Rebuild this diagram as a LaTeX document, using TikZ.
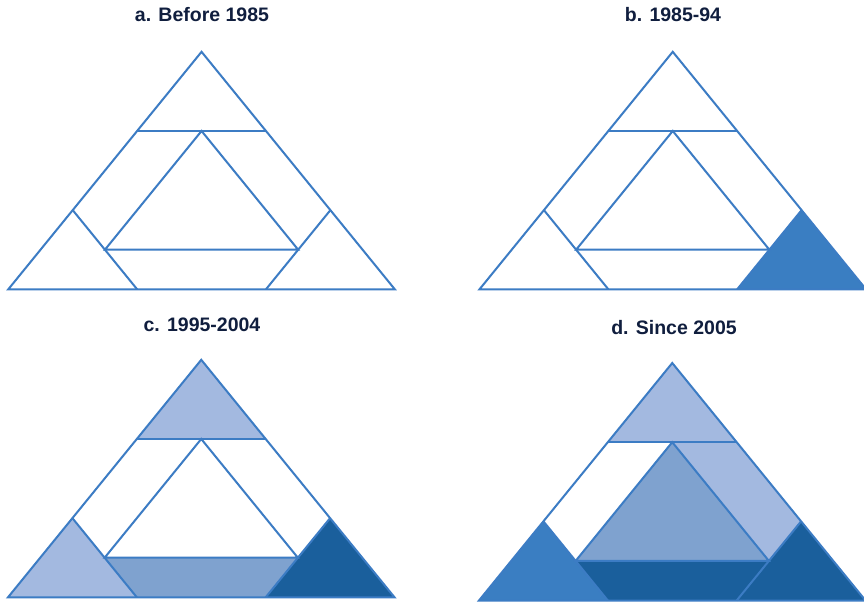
\documentclass[tikz,border=0pt]{standalone}
\usepackage{fontspec}
\setmainfont{Liberation Sans}
\definecolor{edgeblue}{RGB}{60,124,196}
\definecolor{lightfill}{RGB}{163,185,224}
\definecolor{midfill}{RGB}{127,162,207}
\definecolor{brightfill}{RGB}{58,126,194}
\definecolor{darkfill}{RGB}{26,95,156}
\definecolor{titlenavy}{RGB}{16,30,62}
\def\W{386.5}
\def\H{237.5}
\newcommand\mkpts{%
  \coordinate (L) at (0,0);
  \coordinate (R) at (\W,0);
  \coordinate (T) at ({\W/2},{-\H});
  \coordinate (P1) at ({\W/3},{-2*\H/3});
  \coordinate (P2) at ({2*\W/3},{-2*\H/3});
  \coordinate (M) at ({\W/2},{-2*\H/3});
  \coordinate (Q1) at ({\W/6},{-\H/3});
  \coordinate (Q2) at ({\W/3},0);
  \coordinate (Q3) at ({5*\W/6},{-\H/3});
  \coordinate (Q4) at ({2*\W/3},0);
  \coordinate (N1) at ({\W/4},{-\H/6});
  \coordinate (N2) at ({3*\W/4},{-\H/6});
}
\newcommand\mklines{%
  \draw[edge] (L) -- (R) -- (T) -- cycle;
  \draw[edge] (P1) -- (P2);
  \draw[edge] (M) -- (N1) -- (N2) -- cycle;
  \draw[edge] (Q1) -- (Q2);
  \draw[edge] (Q3) -- (Q4);
}
\tikzset{
  edge/.style={draw=edgeblue, line width=2pt, line join=miter},
  title/.style={font=\fontsize{19.5}{22}\selectfont\bfseries, text=titlenavy, inner sep=0pt},
}
\begin{document}
\begin{tikzpicture}[x=1pt,y=-1pt]
\useasboundingbox[fill=white] (0,0) rectangle (864,602);
% titles
\node[title] (ta) at (202,15) {a. Before 1985};
\node[title] (tb) at (673,15) {b. 1985-94};
\node[title] (tc) at (202,325) {c. 1995-2004};
\node[title] (td) at (674,328) {d. Since 2005};
% panel a
\begin{scope}[shift={(8.3,289.3)}]
  \mkpts
  \mklines
\end{scope}
% panel b
\begin{scope}[shift={(479.5,289.3)}]
  \mkpts
  \fill[brightfill] (R) -- (Q4) -- (Q3) -- cycle;
  \mklines
\end{scope}
% panel c
\begin{scope}[shift={(8,597.3)}]
  \mkpts
  \fill[lightfill] (T) -- (P1) -- (P2) -- cycle;
  \fill[lightfill] (L) -- (Q2) -- (Q1) -- cycle;
  \fill[midfill] (N1) -- (N2) -- (Q4) -- (Q2) -- cycle;
  \fill[darkfill] (R) -- (Q4) -- (Q3) -- cycle;
  \mklines
\end{scope}
% panel d
\begin{scope}[shift={(479,600.5)}]
  \mkpts
  \fill[lightfill] (T) -- (P1) -- (P2) -- cycle;
  \fill[lightfill] (M) -- (P2) -- (Q3) -- (N2) -- cycle;
  \fill[midfill] (M) -- (N1) -- (N2) -- cycle;
  \fill[darkfill] (N1) -- (N2) -- (Q4) -- (Q2) -- cycle;
  \fill[brightfill] (L) -- (Q2) -- (Q1) -- cycle;
  \fill[darkfill] (R) -- (Q4) -- (Q3) -- cycle;
  \mklines
\end{scope}
\end{tikzpicture}
\end{document}
